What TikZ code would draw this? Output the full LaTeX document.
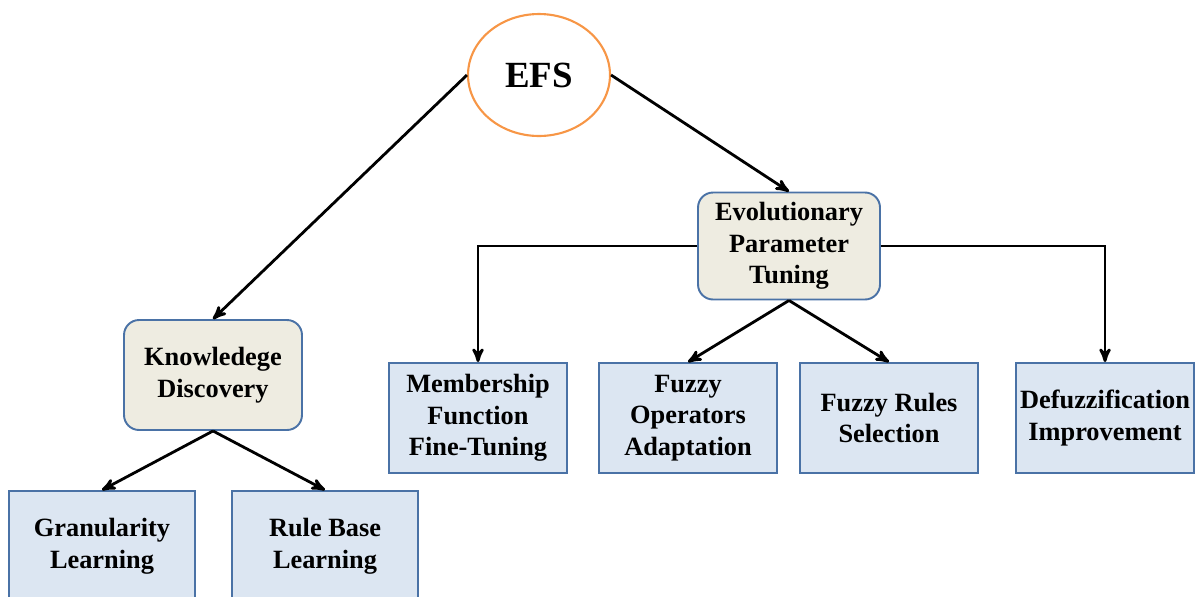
\documentclass[tikz,border=0pt]{standalone}
\usepackage{fontspec}
\setmainfont{Liberation Serif}
\usepackage{tikz}
\usetikzlibrary{positioning,shapes,arrows}
\definecolor{efsorange}{HTML}{F79646}
\definecolor{boxline}{HTML}{4A72A6}
\definecolor{beige}{HTML}{EEECE1}
\definecolor{lightblue}{HTML}{DCE6F2}

\begin{document}
\begin{tikzpicture}[x=0.02cm, y=-0.02cm,
  mybox/.style = {draw=boxline, line width=1.1pt, fill=lightblue, align=center,
    font=\fontsize{15}{18}\selectfont\bfseries, minimum width=3.56cm, minimum height=2.2cm},
  mygroup/.style = {mybox, fill=beige, rounded corners=0.3cm},
  myarrow/.style = {->, >=stealth', line width=1.6pt}]
\useasboundingbox (0,0) rectangle (1202,596);
\node[ellipse, draw=efsorange, line width=1.2pt, minimum width=2.84cm, minimum height=2.44cm,
  font=\fontsize{21}{24}\selectfont\bfseries] (efs) at (539,75) {EFS};
\node[mygroup, minimum width=3.64cm, minimum height=2.14cm] (ept) at (789,246) {Evolutionary\\Parameter\\Tuning};
\node[mygroup] (kd) at (213,375) {Knowledege\\Discovery};
\node[mybox] (mff) at (478,418) {Membership\\Function\\Fine-Tuning};
\node[mybox] (foa) at (688,418) {Fuzzy\\Operators\\Adaptation};
\node[mybox] (frs) at (889,418) {Fuzzy Rules\\Selection};
\node[mybox, inner xsep=0pt] (dfi) at (1105,418) {Defuzzification\\Improvement};
\node[mybox, minimum width=3.72cm] (gl) at (102,546) {Granularity\\Learning};
\node[mybox, minimum width=3.72cm] (rbl) at (325,546) {Rule Base\\Learning};
\draw[myarrow] (efs.west) -- (kd.north);
\draw[myarrow] (efs.east) -- (ept.north);
\draw[myarrow] (ept.west) -| (mff.north);
\draw[myarrow] (ept.east) -| (dfi.north);
\draw[myarrow] (ept.south) -- (foa.north);
\draw[myarrow] (ept.south) -- (frs.north);
\draw[myarrow] (kd.south) -- (gl.north);
\draw[myarrow] (kd.south) -- (rbl.north);
\end{tikzpicture}
\end{document}
